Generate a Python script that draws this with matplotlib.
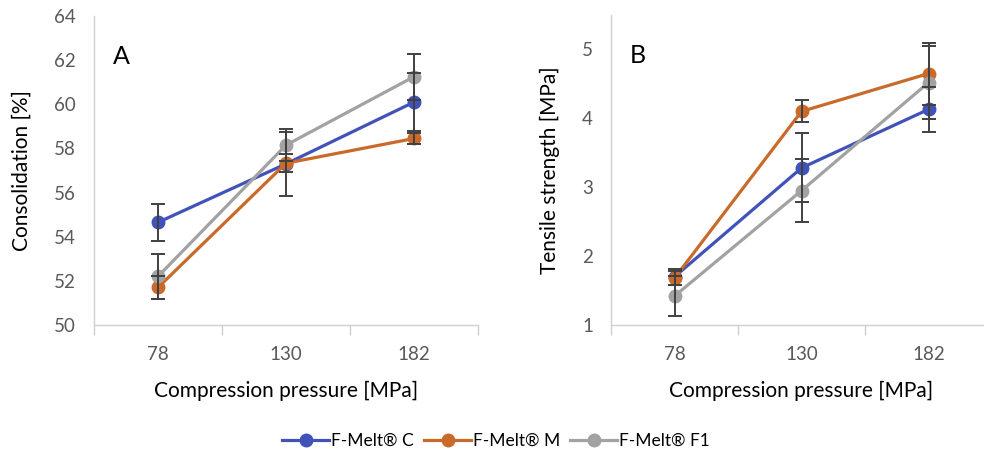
import matplotlib
matplotlib.use("Agg")
import matplotlib.pyplot as plt
from matplotlib.lines import Line2D
import numpy as np

plt.rcParams['font.family'] = ['Lato', 'DejaVu Sans']

pressures = ["78", "130", "182"]
series_names = ["F-Melt® C", "F-Melt® M", "F-Melt® F1"]
colors = ["#4152B8", "#C96A2A", "#A2A2A2"]

# Consolidation [%]
cons_C = [54.65, 57.3, 60.1]
cons_M = [51.7, 57.33, 58.45]
cons_F1 = [52.2, 58.15, 61.25]
cons_C_err = [0.85, 1.45, 1.3]
cons_M_err = [0.5, 0.4, 0.25]
cons_F1_err = [1.0, 0.72, 1.05]

# Tensile strength [MPa]
ts_C = [1.7, 3.28, 4.13]
ts_M = [1.68, 4.10, 4.65]
ts_F1 = [1.42, 2.95, 4.52]
ts_C_err = [0.12, 0.5, 0.33]
ts_M_err = [0.1, 0.16, 0.45]
ts_F1_err = [0.29, 0.46, 0.53]

W, H = 984, 457
fig = plt.figure(figsize=(W / 100, H / 100), dpi=100)

def px_axes(left, top, right, bottom):
    return fig.add_axes([left / W, (H - bottom) / H, (right - left) / W, (bottom - top) / H])

axA = px_axes(94, 16, 478, 325)
axB = px_axes(611, 15, 992, 325)

tick_color = "#595959"
spine_color = "#D0D0D0"
err_color = "#404040"

def style(ax, ylim, yticks, ylabel, letter):
    x = np.arange(len(pressures))
    ax.set_xlim(-0.5, len(pressures) - 0.5)
    ax.set_ylim(*ylim)
    ax.set_yticks(yticks)
    ax.set_xticks(x)
    ax.set_xticklabels(pressures)
    ax.set_xticks(np.arange(-0.5, len(pressures), 1.0), minor=True)
    ax.tick_params(axis='x', which='major', length=0, pad=15, labelsize=13.5, labelcolor=tick_color)
    ax.tick_params(axis='x', which='minor', length=7, width=1, color=spine_color, direction='out')
    ax.tick_params(axis='y', length=0, pad=13, labelsize=13.5, labelcolor=tick_color)
    for s in ("top", "right"):
        ax.spines[s].set_visible(False)
    for s in ("left", "bottom"):
        ax.spines[s].set_color(spine_color)
        ax.spines[s].set_linewidth(1.0)
    ax.set_xlabel("Compression pressure [MPa]", fontsize=15, color="black", labelpad=13)
    ax.set_ylabel(ylabel, fontsize=15, color="black", labelpad=16)
    ax.text(0.05, 0.87, letter, transform=ax.transAxes, fontsize=18, color="black",
            ha="left", va="center")

def draw(ax, vals, errs):
    x = np.arange(len(pressures))
    for v, e, c in zip(vals, errs, colors):
        ax.plot(x, v, color=c, lw=2.3, marker='o', markersize=9, zorder=3)
        ax.errorbar(x, v, yerr=e, fmt='none', ecolor=err_color, elinewidth=1.4,
                    capsize=5, capthick=1.4, zorder=4)

draw(axA, [cons_C, cons_M, cons_F1], [cons_C_err, cons_M_err, cons_F1_err])
draw(axB, [ts_C, ts_M, ts_F1], [ts_C_err, ts_M_err, ts_F1_err])
style(axA, (50, 64), np.arange(50, 65, 2), "Consolidation [%]", "A")
style(axB, (1, 5.5), np.arange(1, 6, 1), "Tensile strength [MPa]", "B")

handles = [Line2D([0], [0], color=c, lw=2.3, marker='o', markersize=9) for c in colors]
fig.legend(handles, series_names, loc="center", bbox_to_anchor=(496 / W, 1 - 441 / H),
           ncol=3, frameon=False, fontsize=12.5, handlelength=2.7, handletextpad=0.1,
           columnspacing=0.6)

fig.savefig("out.png", dpi=100)
